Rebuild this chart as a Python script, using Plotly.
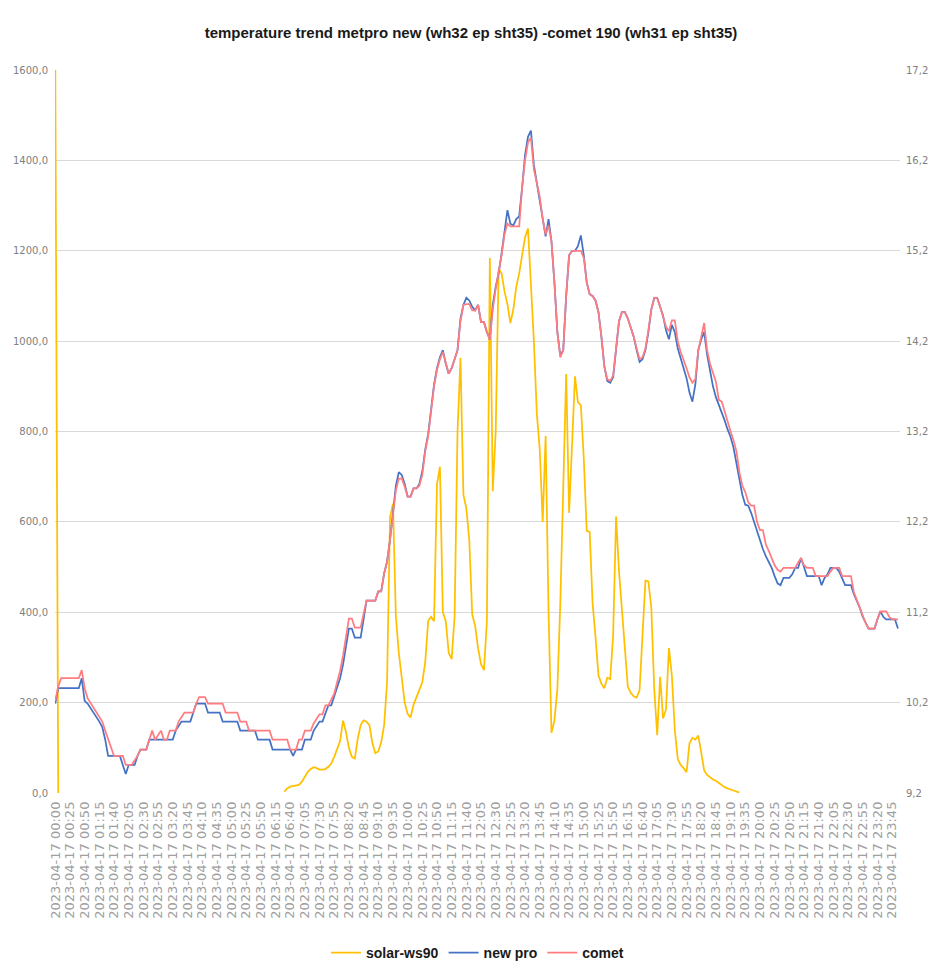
import pandas as pd
import plotly.graph_objects as go

# category labels: 5-minute timestamps for 2023-04-17
times = [t.strftime("%Y-%m-%d %H:%M") for t in pd.date_range("2023-04-17 00:00", periods=288, freq="5min")]
tick_labels = times[::5]

# solar-ws90 (left axis, W/m2)
solar_ws90 = (
    [1600, 0] + [None] * 76 +
    [3, 10, 14, 15, 16, 18, 25, 36, 47, 53, 57, 55,
     52, 52, 53, 58, 65, 80, 98, 115, 160, 135,
     100, 80, 76, 120, 150, 161, 158, 150, 110, 88,
     92, 112, 150, 245, 610, 640, 390, 310, 255, 200,
     175, 167, 195, 212, 230, 245, 290, 381, 390, 380,
     683, 722, 400, 380, 310, 296, 390, 800, 963, 660,
     630, 560, 395, 370, 320, 285, 272, 380, 1184, 668,
     800, 1160, 1150, 1110, 1082, 1040, 1070, 1120, 1150, 1190,
     1230, 1249, 1130, 1000, 840, 760, 600, 790, 400, 133,
     160, 230, 420, 700, 927, 620, 790, 922, 865, 858,
     740, 580, 578, 420, 345, 260, 242, 232, 255, 252,
     350, 612, 490, 400, 320, 235, 222, 214, 211, 228,
     350, 470, 468, 410, 230, 128, 257, 165, 185, 321,
     260, 140, 75, 62, 55, 46, 110, 122, 118, 127,
     90, 50, 40, 34, 30, 27, 22, 17, 13, 10,
     8, 6, 4, 1] +
    [None] * 54
)

# new pro temperature (right axis, degC)
new_pro = [
    10.19, 10.36, 10.36, 10.36, 10.36, 10.36, 10.36, 10.36, 10.36, 10.47,
    10.22, 10.19, 10.14, 10.09, 10.05, 9.99, 9.93, 9.79, 9.61, 9.61,
    9.61, 9.61, 9.61, 9.51, 9.41, 9.51, 9.51, 9.51, 9.61, 9.68,
    9.68, 9.68, 9.79, 9.79, 9.79, 9.79, 9.79, 9.79, 9.79, 9.79,
    9.79, 9.89, 9.94, 9.99, 9.99, 9.99, 9.99, 10.09, 10.19, 10.19,
    10.19, 10.19, 10.09, 10.09, 10.09, 10.09, 10.09, 9.99, 9.99, 9.99,
    9.99, 9.99, 9.99, 9.89, 9.89, 9.89, 9.89, 9.89, 9.89, 9.79,
    9.79, 9.79, 9.79, 9.79, 9.68, 9.68, 9.68, 9.68, 9.68, 9.68,
    9.68, 9.61, 9.68, 9.68, 9.68, 9.79, 9.79, 9.79, 9.89, 9.94,
    9.99, 9.99, 10.09, 10.17, 10.17, 10.27, 10.35, 10.47, 10.62, 10.84,
    11.02, 11.02, 10.92, 10.92, 10.92, 11.12, 11.33, 11.33, 11.33, 11.33,
    11.43, 11.43, 11.63, 11.76, 12.0, 12.3, 12.6, 12.75, 12.72, 12.62,
    12.48, 12.48, 12.57, 12.57, 12.62, 12.76, 13.0, 13.17, 13.45, 13.72,
    13.9, 14.02, 14.1, 13.95, 13.84, 13.9, 14.0, 14.1, 14.45, 14.6,
    14.68, 14.65, 14.58, 14.54, 14.6, 14.41, 14.41, 14.3, 14.22, 14.6,
    14.8, 14.95, 15.17, 15.4, 15.65, 15.5, 15.48, 15.55, 15.58, 15.9,
    16.26, 16.46, 16.53, 16.15, 15.95, 15.8, 15.55, 15.36, 15.55, 15.3,
    14.85, 14.3, 14.04, 14.1, 14.7, 15.15, 15.2, 15.2, 15.25, 15.37,
    15.15, 14.85, 14.72, 14.7, 14.65, 14.52, 14.25, 13.92, 13.76, 13.74,
    13.8, 14.1, 14.42, 14.52, 14.52, 14.45, 14.35, 14.25, 14.1, 13.97,
    14.0, 14.1, 14.3, 14.55, 14.68, 14.68, 14.58, 14.48, 14.32, 14.22,
    14.38, 14.3, 14.12, 14.0, 13.9, 13.79, 13.63, 13.53, 13.72, 14.1,
    14.22, 14.3, 14.05, 13.85, 13.7, 13.58, 13.5, 13.4, 13.32, 13.22,
    13.14, 13.02, 12.85, 12.65, 12.5, 12.39, 12.38, 12.3, 12.2, 12.08,
    11.98, 11.9, 11.82, 11.75, 11.69, 11.6, 11.52, 11.5, 11.58, 11.58,
    11.58, 11.62, 11.69, 11.69, 11.8, 11.7, 11.6, 11.6, 11.6, 11.6,
    11.6, 11.5, 11.58, 11.62, 11.69, 11.69, 11.69, 11.65, 11.58, 11.5,
    11.5, 11.5, 11.4, 11.33, 11.25, 11.15, 11.08, 11.02, 11.02, 11.02,
    11.12, 11.21, 11.15, 11.12, 11.12, 11.12, 11.12, 11.02,
]

# comet temperature (right axis, degC)
comet = [
    10.22, 10.38, 10.47, 10.47, 10.47, 10.47, 10.47, 10.47, 10.47, 10.56,
    10.36, 10.25, 10.2, 10.14, 10.09, 10.05, 9.99, 9.89, 9.79, 9.7,
    9.61, 9.61, 9.61, 9.61, 9.51, 9.51, 9.51, 9.56, 9.61, 9.68,
    9.68, 9.68, 9.79, 9.89, 9.79, 9.84, 9.89, 9.79, 9.79, 9.89,
    9.89, 9.89, 9.99, 10.04, 10.09, 10.09, 10.09, 10.09, 10.19, 10.26,
    10.26, 10.26, 10.19, 10.19, 10.19, 10.19, 10.19, 10.19, 10.09, 10.09,
    10.09, 10.09, 10.09, 9.99, 9.99, 9.99, 9.89, 9.89, 9.89, 9.89,
    9.89, 9.89, 9.89, 9.89, 9.79, 9.79, 9.79, 9.79, 9.79, 9.79,
    9.68, 9.68, 9.68, 9.79, 9.79, 9.89, 9.89, 9.89, 9.97, 10.02,
    10.07, 10.07, 10.17, 10.17, 10.24, 10.3, 10.43, 10.55, 10.72, 10.91,
    11.13, 11.13, 11.03, 11.03, 11.03, 11.18, 11.33, 11.33, 11.33, 11.33,
    11.43, 11.43, 11.63, 11.76, 12.0, 12.27, 12.55, 12.68, 12.68, 12.59,
    12.48, 12.48, 12.57, 12.57, 12.6, 12.72, 12.98, 13.15, 13.42, 13.7,
    13.88, 14.0, 14.08, 13.95, 13.84, 13.9, 14.0, 14.1, 14.42, 14.6,
    14.61, 14.61, 14.54, 14.54, 14.6, 14.41, 14.41, 14.3, 14.22, 14.55,
    14.78, 14.95, 15.15, 15.38, 15.5, 15.47, 15.47, 15.47, 15.47, 15.9,
    16.2, 16.4, 16.45, 16.1, 15.95, 15.8, 15.55, 15.38, 15.48, 15.3,
    14.85, 14.3, 14.02, 14.1, 14.7, 15.15, 15.2, 15.2, 15.2, 15.2,
    15.12, 14.85, 14.72, 14.7, 14.65, 14.52, 14.25, 13.92, 13.78, 13.76,
    13.82, 14.1, 14.42, 14.52, 14.52, 14.45, 14.35, 14.25, 14.12, 14.0,
    14.02, 14.12, 14.32, 14.55, 14.68, 14.68, 14.58, 14.48, 14.36, 14.31,
    14.43, 14.43, 14.2, 14.08, 14.0, 13.9, 13.8, 13.74, 13.78, 14.1,
    14.25, 14.4, 14.1, 13.95, 13.85, 13.75, 13.55, 13.53, 13.42, 13.3,
    13.2, 13.1, 12.98, 12.75, 12.6, 12.53, 12.42, 12.38, 12.38, 12.2,
    12.11, 12.11, 11.95, 11.88, 11.8, 11.72, 11.67, 11.65, 11.69, 11.69,
    11.69, 11.69, 11.69, 11.75, 11.8, 11.72, 11.69, 11.69, 11.69, 11.6,
    11.6, 11.6, 11.6, 11.6, 11.65, 11.69, 11.69, 11.69, 11.6, 11.6,
    11.6, 11.6, 11.42, 11.33, 11.25, 11.15, 11.08, 11.02, 11.02, 11.02,
    11.12, 11.21, 11.21, 11.21, 11.15, 11.12, 11.12, 11.12,
]

left_ticks = [0, 200, 400, 600, 800, 1000, 1200, 1400, 1600]
right_ticks = [9.2, 10.2, 11.2, 12.2, 13.2, 14.2, 15.2, 16.2, 17.2]

fig = go.Figure()
fig.add_trace(go.Scatter(x=times, y=solar_ws90, name="solar-ws90", mode="lines",
                         line=dict(color="#FFC000", width=1.75), connectgaps=False))
fig.add_trace(go.Scatter(x=times, y=new_pro, name="new pro", mode="lines", yaxis="y2",
                         line=dict(color="#4472C4", width=1.75)))
fig.add_trace(go.Scatter(x=times, y=comet, name="comet", mode="lines", yaxis="y2",
                         line=dict(color="#FF7C80", width=1.75)))

tick_font = dict(family="DejaVu Sans", size=10, color="#7f7f7f")

fig.update_layout(
    width=929, height=969,
    margin=dict(l=55, r=29, t=70, b=176),
    paper_bgcolor="white", plot_bgcolor="white",
    separators=",.",
    title=dict(text="temperature trend metpro new (wh32 ep sht35) -comet 190 (wh31 ep sht35)",
               x=0.507, xanchor="center", y=0.966, yanchor="middle", yref="container",
               font=dict(family="Liberation Sans", size=15, color="#1a1a1a", weight="bold")),
    xaxis=dict(type="category", categoryorder="array", categoryarray=times,
               range=[-0.1, 287.7], tickmode="array", tickvals=tick_labels, ticktext=tick_labels,
               tickangle=-90, tickfont=dict(family="DejaVu Sans", size=13, color="#a0a0a0"),
               showgrid=False, zeroline=False, showline=False, ticks="",
               ticklabelstandoff=5, automargin=False),
    yaxis=dict(range=[0, 1600], tickmode="array", tickvals=left_ticks, tickformat=".1f",
               showgrid=True, gridcolor="#d9d9d9", gridwidth=1.3, zeroline=False, showline=False,
               tickfont=tick_font, ticks="", ticklabelstandoff=6, automargin=False),
    yaxis2=dict(range=[9.2, 17.2], tickmode="array", tickvals=right_ticks, tickformat=".1f",
                overlaying="y", side="right", showgrid=False, zeroline=False, showline=False,
                tickfont=tick_font, ticks="", ticklabelstandoff=5, automargin=False),
    legend=dict(orientation="h", x=0.5, xanchor="center", xref="paper",
                y=0.0165, yanchor="middle", yref="container",
                font=dict(family="Liberation Sans", size=14, color="#1a1a1a", weight="bold"),
                itemwidth=30, bgcolor="rgba(0,0,0,0)"),
    showlegend=True,
)

fig.write_html("out.html", config={"displayModeBar": False},
               post_script="document.body.style.margin='0px';document.body.style.padding='0px';"
                           "document.body.style.overflow='hidden';")
